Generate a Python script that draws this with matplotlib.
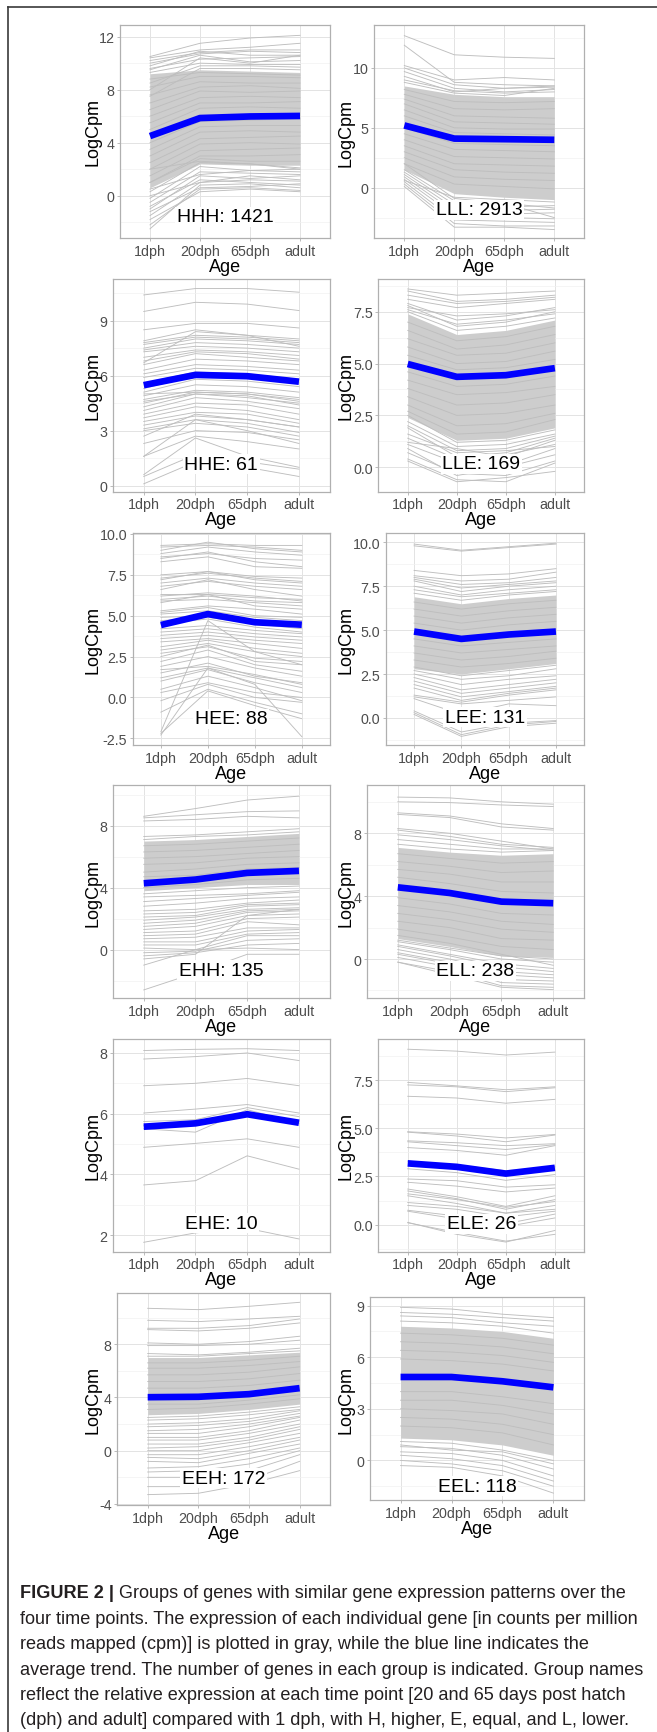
import matplotlib
matplotlib.use('Agg')
import matplotlib.pyplot as plt
from matplotlib.lines import Line2D
import numpy as np

# ---- data (LogCpm at 1dph, 20dph, 65dph, adult) ----
ages = ['1dph', '20dph', '65dph', 'adult']

hhh_mean = [4.5, 5.86, 5.98, 6.02]
hhh_band_lo = [0.6, 2.4, 2.3, 2.3]
hhh_band_hi = [9.2, 9.5, 9.4, 9.3]
hhh_genes = [
    [10.5, 11.5, 11.9, 12.1], [10.4, 11.0, 11.2, 11.5], [10.2, 10.8, 11.0, 11.0],
    [10.0, 10.7, 10.9, 10.8], [9.8, 10.9, 10.6, 10.6], [9.6, 10.3, 10.4, 10.5],
    [9.5, 10.6, 10.1, 10.2], [9.3, 10.0, 9.9, 9.9], [8.5, 9.8, 9.8, 9.7],
    [8.0, 10.4, 10.0, 10.6], [7.5, 9.6, 9.6, 9.5],
    [8.8, 9.3, 9.2, 9.1], [8.2, 9.0, 9.0, 8.9], [7.6, 8.6, 8.5, 8.5],
    [7.0, 8.2, 8.3, 8.1], [6.5, 7.9, 7.8, 7.9], [6.0, 7.4, 7.5, 7.4],
    [5.5, 7.0, 7.0, 7.1], [5.0, 6.6, 6.7, 6.6], [4.0, 5.6, 5.7, 5.8],
    [3.5, 5.2, 5.3, 5.3], [3.0, 4.8, 4.9, 4.8], [2.5, 4.3, 4.4, 4.5],
    [2.0, 3.9, 4.0, 3.9], [1.5, 3.4, 3.5, 3.6], [1.0, 3.0, 3.0, 3.1],
    [-2.5, 0.8, 0.9, 0.6], [-2.2, 0.5, 0.6, 0.4], [-1.8, 0.3, 0.5, 0.3],
    [-1.5, 1.0, 1.2, 1.1], [-1.2, 0.6, 0.7, 0.9], [-1.0, 1.5, 1.3, 1.5],
    [-0.8, 1.2, 1.0, 0.8], [-0.5, 1.8, 1.7, 1.6], [-0.2, 2.2, 1.9, 2.0],
    [0.0, 1.0, 1.5, 1.2], [0.3, 2.5, 2.4, 2.1], [0.5, 1.6, 1.9, 1.8],
    [1.0, 2.8, 2.6, 2.6], [2.0, 2.6, 2.4, 2.0],
]

lll_mean = [5.2, 4.1, 4.05, 4.0]
lll_band_lo = [1.5, -0.5, -0.8, -1.0]
lll_band_hi = [8.5, 7.8, 7.6, 7.6]
lll_genes = [
    [12.7, 11.1, 10.9, 10.8], [11.9, 8.8, 8.6, 8.5], [10.2, 9.0, 9.2, 9.0],
    [10.0, 8.6, 8.3, 8.4], [9.7, 8.3, 8.0, 8.2], [9.3, 8.0, 8.3, 8.5],
    [9.0, 8.1, 7.9, 8.0], [8.8, 7.9, 7.7, 8.3],
    [8.2, 7.2, 7.1, 7.2], [7.8, 6.6, 6.5, 6.6], [7.4, 6.0, 5.9, 5.8],
    [7.0, 5.5, 5.4, 5.3], [6.5, 5.0, 4.9, 4.9], [6.0, 4.6, 4.5, 4.4],
    [5.0, 3.7, 3.6, 3.5], [4.5, 3.2, 3.1, 3.0], [4.0, 2.6, 2.5, 2.4],
    [3.5, 2.0, 1.9, 1.8], [3.0, 1.5, 1.3, 1.2], [2.5, 0.9, 0.7, 0.6],
    [2.0, 0.3, 0.1, -0.1],
    [0.1, -3.3, -3.3, -3.5], [0.3, -3.0, -3.2, -3.2], [0.5, -2.7, -2.8, -2.9],
    [0.7, -2.3, -2.5, -2.6], [0.9, -2.0, -2.2, -2.1], [1.1, -1.7, -1.9, -1.8],
    [1.3, -1.4, -1.6, -1.5], [1.5, -1.1, -1.3, -1.7], [0.6, -0.8, -1.0, -1.2],
    [2.0, -0.9, -1.3, -2.5],
]

hhe_mean = [5.48, 6.04, 5.97, 5.67]
hhe_genes = [
    [10.4, 10.75, 10.75, 10.55], [9.5, 10.0, 9.9, 9.55], [8.5, 8.85, 8.85, 8.6],
    [7.9, 8.5, 8.2, 8.0], [7.8, 8.2, 8.1, 7.9], [7.7, 8.1, 8.0, 7.8],
    [7.5, 8.0, 7.9, 7.7], [7.4, 7.8, 7.7, 7.5], [7.3, 7.6, 7.5, 7.3],
    [7.0, 7.4, 7.3, 7.1], [6.8, 7.3, 7.2, 6.9], [6.6, 7.2, 7.0, 6.8],
    [6.3, 6.9, 6.8, 6.6], [6.1, 6.6, 6.5, 6.3], [6.7, 8.4, 8.2, 7.6],
    [5.9, 6.4, 6.3, 6.1], [5.6, 6.2, 6.1, 5.8], [5.3, 6.0, 5.9, 5.6],
    [5.1, 5.8, 5.7, 5.4], [4.9, 5.5, 5.4, 5.1], [4.7, 5.2, 5.1, 4.8],
    [4.5, 5.1, 5.0, 4.6], [4.3, 5.0, 4.9, 4.4], [4.1, 4.8, 4.6, 4.2],
    [3.9, 4.5, 4.4, 3.9], [3.7, 4.3, 4.1, 3.6], [3.5, 4.0, 3.9, 3.4],
    [3.3, 3.8, 3.6, 3.2], [3.1, 3.6, 3.4, 2.9], [3.0, 3.4, 3.2, 2.7],
    [2.7, 3.9, 3.6, 3.2], [2.3, 3.0, 2.9, 2.5], [1.6, 3.6, 3.0, 2.3],
    [1.6, 2.7, 2.4, 2.0], [0.6, 2.6, 1.6, 1.0], [0.5, 1.7, 1.3, 0.9],
    [0.1, 1.3, 1.0, 0.5], [4.6, 5.0, 4.8, 4.5], [5.0, 5.1, 5.0, 4.7],
]

lle_mean = [4.98, 4.36, 4.44, 4.78]
lle_band_lo = [2.4, 1.3, 1.4, 1.9]
lle_band_hi = [7.4, 6.4, 6.6, 7.1]
lle_genes = [
    [8.6, 8.3, 8.4, 8.5], [8.5, 8.0, 8.1, 8.3], [8.1, 7.7, 7.9, 8.1],
    [7.9, 7.1, 7.3, 7.7], [7.8, 6.8, 7.0, 7.5], [7.6, 6.9, 7.1, 7.4],
    [7.7, 7.3, 7.4, 7.6], [8.3, 7.9, 8.0, 8.2], [7.5, 6.6, 6.8, 7.2],
    [7.0, 6.1, 6.3, 6.8], [6.6, 5.7, 5.9, 6.4], [6.2, 5.4, 5.5, 6.0],
    [5.8, 5.0, 5.1, 5.6], [5.4, 4.7, 4.8, 5.2], [4.6, 3.9, 4.0, 4.4],
    [4.2, 3.5, 3.6, 3.9], [3.8, 3.0, 3.1, 3.5], [3.4, 2.5, 2.6, 3.0],
    [3.0, 2.0, 2.1, 2.6], [2.7, 1.6, 1.7, 2.3],
    [2.2, 1.0, 1.1, 1.6], [2.0, 0.8, 0.9, 1.5], [1.4, 0.4, 0.6, 1.1],
    [1.2, 0.9, 0.5, 1.3], [2.5, 1.2, 1.3, 1.8],
    [1.1, 0.2, 0.1, 0.9], [0.7, -0.3, -0.4, 0.3], [0.4, -0.6, -0.7, 0.2],
    [0.3, -0.7, -0.5, -0.2], [1.6, 0.7, 0.8, 1.0], [0.9, -0.4, 0.0, 0.6],
    [1.9, 0.5, 0.7, 1.4],
]

hee_mean = [4.43, 5.1, 4.6, 4.45]
hee_genes = [
    [9.3, 9.4, 9.3, 9.3], [9.2, 9.3, 9.2, 9.0], [9.0, 9.5, 9.1, 8.9],
    [8.8, 9.2, 8.9, 8.7], [8.6, 8.8, 8.5, 8.4], [8.5, 8.9, 8.3, 8.0],
    [8.3, 8.6, 8.0, 7.9], [7.5, 7.7, 7.4, 7.3], [7.3, 7.6, 7.3, 7.1],
    [7.2, 7.7, 7.2, 7.0], [7.0, 7.3, 7.0, 6.8], [6.8, 7.1, 6.8, 6.6],
    [6.6, 7.2, 6.6, 6.2], [6.3, 6.3, 6.1, 6.0], [6.2, 6.4, 6.2, 5.9],
    [6.0, 6.2, 5.9, 5.8], [5.9, 6.0, 5.8, 5.6], [5.8, 6.3, 5.6, 5.4],
    [5.3, 5.6, 5.4, 5.1], [5.2, 5.5, 5.0, 4.9], [5.1, 5.3, 4.9, 4.7],
    [4.9, 5.0, 4.7, 4.5], [4.7, 4.9, 4.5, 4.2], [4.5, 4.8, 4.3, 4.0],
    [4.2, 4.4, 4.1, 3.9], [4.0, 4.2, 3.9, 3.7], [3.8, 4.0, 3.7, 3.5],
    [3.6, 3.8, 3.5, 3.3], [3.4, 3.6, 3.3, 3.0], [3.1, 3.5, 3.0, 2.7],
    [2.9, 3.3, 2.8, 2.5], [2.7, 3.1, 2.4, 2.2], [2.5, 3.2, 2.2, 2.0],
    [2.2, 2.9, 2.0, 1.6], [1.9, 2.5, 1.8, 1.3], [1.7, 1.9, 1.4, 0.8],
    [1.5, 2.1, 1.3, 0.9], [1.2, 1.8, 1.2, 0.6], [1.0, 1.7, 0.9, 0.3],
    [0.5, 1.3, 0.6, -0.2], [0.3, 0.9, 0.3, 0.0], [-0.2, 0.8, 0.0, -0.3],
    [-0.9, 0.5, -0.3, -1.0], [-2.2, 0.4, -0.5, -1.3], [-2.3, 1.8, 0.8, -2.4],
    [-2.1, 4.7, 2.8, 2.0],
]

lee_mean = [4.92, 4.5, 4.75, 4.92]
lee_band_lo = [2.8, 2.5, 2.8, 3.1]
lee_band_hi = [6.9, 6.5, 6.8, 7.0]
lee_genes = [
    [9.9, 9.55, 9.75, 9.95], [9.8, 9.5, 9.7, 9.9], [8.4, 8.1, 8.2, 8.5],
    [8.1, 7.8, 7.9, 8.3], [8.0, 7.6, 7.7, 8.0], [7.9, 7.4, 7.6, 7.8],
    [7.8, 7.2, 7.5, 7.7], [7.3, 6.9, 7.1, 7.3], [7.5, 7.0, 7.3, 7.5],
    [7.1, 6.7, 7.0, 7.2], [6.6, 6.2, 6.5, 6.7], [6.2, 5.8, 6.1, 6.3],
    [5.8, 5.4, 5.7, 5.9], [5.4, 5.0, 5.3, 5.5], [4.5, 4.1, 4.3, 4.5],
    [4.1, 3.7, 3.9, 4.1], [3.7, 3.3, 3.5, 3.8], [3.3, 2.9, 3.1, 3.4],
    [2.7, 2.2, 2.4, 2.8], [2.9, 2.4, 2.7, 3.0],
    [2.5, 1.9, 2.2, 2.4], [2.3, 1.6, 1.9, 2.2], [2.1, 1.4, 1.7, 2.0],
    [1.9, 1.2, 1.5, 1.8], [1.7, 1.0, 1.4, 1.7], [1.3, 0.9, 1.3, 1.6],
    [1.2, 0.8, 1.0, 1.2], [1.1, 0.2, 0.8, 0.7], [0.4, -0.8, -0.3, -0.15],
    [0.3, -0.95, -0.4, -0.2], [0.2, -1.05, -0.5, -0.3],
]

ehh_mean = [4.28, 4.52, 4.95, 5.08]
ehh_band_lo = [3.8, 4.0, 4.2, 4.2]
ehh_band_hi = [7.0, 7.1, 7.3, 7.5]
ehh_genes = [
    [8.6, 9.1, 9.65, 9.9], [8.5, 8.7, 8.9, 8.95], [8.3, 8.4, 8.6, 8.5],
    [7.3, 7.4, 7.6, 7.8], [7.1, 7.3, 7.4, 7.6],
    [6.7, 6.8, 7.0, 7.2], [6.3, 6.4, 6.6, 6.8], [5.9, 6.0, 6.2, 6.4],
    [5.5, 5.6, 5.9, 6.0], [5.0, 5.2, 5.5, 5.6], [4.7, 4.8, 5.2, 5.3],
    [4.0, 4.2, 4.5, 4.6], [3.6, 3.8, 4.0, 4.1],
    [3.4, 3.5, 3.6, 3.8], [3.1, 3.3, 3.5, 3.7], [2.8, 3.0, 3.3, 3.4],
    [2.5, 2.6, 3.0, 3.2], [2.3, 2.4, 2.9, 3.0], [2.1, 2.2, 2.8, 2.9],
    [1.9, 2.1, 2.6, 2.7], [1.7, 1.9, 2.5, 2.6], [1.5, 1.7, 2.4, 2.5],
    [1.3, 1.5, 2.2, 2.3], [1.1, 1.2, 2.0, 2.1], [0.9, 1.0, 1.8, 1.6],
    [0.7, 0.8, 1.4, 1.4], [0.5, 0.5, 1.2, 1.3], [0.3, 0.3, 1.0, 1.1],
    [0.1, 0.0, 0.9, 0.9], [-0.2, -0.1, 0.6, 0.7], [-0.4, -0.2, 0.3, 0.4],
    [-0.6, -0.3, 2.2, 2.6], [-1.0, 0.0, 0.1, 0.0], [-2.6, -1.5, -0.3, -0.3],
]

ell_mean = [4.56, 4.2, 3.65, 3.55]
ell_band_lo = [1.3, 0.8, 0.2, 0.1]
ell_band_hi = [7.1, 6.8, 6.6, 6.7]
ell_genes = [
    [10.3, 10.25, 10.0, 9.85], [10.0, 9.95, 9.8, 9.7], [9.3, 9.1, 8.6, 8.3],
    [9.2, 9.0, 8.4, 8.2], [8.3, 8.0, 7.5, 7.0], [8.2, 7.8, 7.3, 7.1],
    [7.6, 7.3, 7.0, 7.0], [7.9, 7.6, 7.2, 6.9], [7.3, 7.0, 6.8, 6.9],
    [6.7, 6.4, 6.1, 6.2], [6.2, 5.9, 5.5, 5.6], [5.7, 5.4, 4.9, 4.9],
    [5.2, 4.8, 4.3, 4.2], [3.9, 3.5, 2.9, 2.8], [3.4, 3.0, 2.4, 2.2],
    [2.9, 2.5, 1.9, 1.7], [2.4, 2.0, 1.3, 1.2], [1.9, 1.4, 0.8, 0.6],
    [1.2, 0.7, 0.2, 0.0], [1.5, 1.0, 0.3, -0.4], [1.1, 0.6, 0.0, -0.2],
    [0.8, 0.2, -0.5, -0.8], [0.6, 0.0, -0.8, -1.0], [0.4, -0.2, -1.0, -1.2],
    [0.3, -0.3, -1.3, -1.4], [0.1, -0.5, -1.5, -1.6], [-0.2, -0.8, -1.7, -1.8],
    [-0.2, -1.0, -1.8, -1.95], [0.9, 0.3, -0.3, -0.6],
]

ehe_mean = [5.57, 5.68, 5.98, 5.7]
ehe_genes = [
    [8.08, 8.12, 8.14, 8.08], [7.8, 7.88, 8.0, 7.75], [6.92, 7.0, 7.16, 6.92],
    [6.02, 6.15, 6.3, 6.02], [5.74, 5.8, 6.2, 5.9], [5.5, 5.39, 6.13, 5.68],
    [4.89, 5.02, 5.17, 4.89], [3.65, 3.79, 4.61, 4.17], [1.76, 2.07, 2.22, 1.87],
    [5.6, 5.7, 5.95, 5.75],
]

ele_mean = [3.18, 3.0, 2.65, 2.95]
ele_genes = [
    [9.1, 9.0, 8.8, 8.95], [7.38, 7.2, 7.0, 7.15], [7.25, 7.15, 6.9, 7.1],
    [6.66, 6.57, 6.3, 6.5], [4.82, 4.7, 4.5, 4.68], [4.8, 4.6, 4.3, 4.65],
    [4.35, 4.25, 4.1, 4.2], [4.3, 4.1, 3.9, 4.15], [4.0, 3.85, 3.6, 4.1],
    [3.3, 3.1, 2.8, 3.0], [2.9, 2.7, 2.3, 2.6], [2.37, 2.28, 1.95, 2.07],
    [2.2, 2.0, 1.7, 1.9], [1.85, 1.45, 0.95, 1.5], [1.75, 1.35, 0.8, 1.3],
    [1.6, 1.3, 0.9, 1.2], [1.5, 1.1, 0.6, 1.0], [1.15, 0.95, 0.6, 0.8],
    [1.0, 0.8, 0.4, 0.7], [0.75, 0.45, 0.05, 0.55], [0.7, 0.3, -0.1, 0.35],
    [0.12, -0.5, -0.9, -0.3], [0.1, -0.4, -0.85, -0.5],
]

eeh_mean = [4.02, 4.05, 4.25, 4.7]
eeh_band_lo = [2.7, 2.8, 3.1, 3.5]
eeh_band_hi = [7.0, 7.0, 7.2, 7.4]
eeh_genes = [
    [10.7, 10.6, 10.85, 11.15], [9.8, 9.7, 9.9, 10.1], [9.2, 9.2, 9.4, 9.9],
    [9.1, 9.0, 9.2, 9.6], [8.1, 8.0, 8.2, 8.6], [7.9, 7.9, 8.0, 8.3],
    [7.3, 7.2, 7.4, 7.7], [7.1, 7.1, 7.3, 7.5],
    [6.6, 6.6, 6.8, 7.1], [6.2, 6.2, 6.4, 6.7], [5.7, 5.7, 5.9, 6.3],
    [5.2, 5.2, 5.4, 5.8], [4.7, 4.7, 4.9, 5.3], [3.5, 3.5, 3.8, 4.2],
    [3.1, 3.2, 3.5, 3.9], [2.5, 2.6, 2.9, 3.3],
    [2.3, 2.4, 2.7, 3.1], [2.0, 2.1, 2.4, 3.0], [1.8, 1.9, 2.2, 2.8],
    [1.5, 1.6, 2.0, 2.6], [1.3, 1.3, 1.8, 2.5], [1.0, 1.0, 1.5, 2.3],
    [0.8, 0.8, 1.3, 2.0], [0.5, 0.5, 1.0, 1.8], [0.2, 0.3, 0.8, 1.6],
    [0.0, 0.0, 0.6, 1.3], [-0.3, -0.3, 0.3, 1.0], [-0.5, -0.6, 0.0, 0.8],
    [-0.8, -0.9, -0.2, 0.5], [-1.3, -1.2, -0.6, 0.2], [-1.6, -1.5, -1.0, 0.0],
    [-2.0, -2.0, -1.5, -0.3], [-2.7, -2.7, -2.2, -0.8], [-3.3, -3.2, -2.5, -1.5],
]

eel_mean = [4.85, 4.85, 4.6, 4.25]
eel_band_lo = [1.3, 1.2, 0.9, 0.3]
eel_band_hi = [7.8, 7.7, 7.5, 7.1]
eel_genes = [
    [8.9, 8.8, 8.5, 8.3], [8.6, 8.5, 8.3, 8.1], [8.4, 8.3, 8.0, 7.8],
    [8.1, 8.0, 7.8, 7.4], [7.4, 7.3, 7.1, 6.7], [6.9, 6.8, 6.6, 6.2],
    [6.4, 6.3, 6.1, 5.7], [5.9, 5.8, 5.6, 5.2], [4.0, 4.0, 3.7, 3.3],
    [3.5, 3.5, 3.2, 2.7], [3.0, 2.9, 2.7, 2.1], [2.5, 2.4, 2.1, 1.5],
    [2.0, 1.9, 1.6, 0.9], [1.1, 1.0, 0.6, 0.0],
    [0.8, 0.7, 0.3, -0.5], [0.5, 0.4, 0.0, -0.9], [0.3, 0.1, -0.3, -1.2],
    [0.0, -0.2, -0.6, -1.5], [-0.3, -0.4, -0.9, -1.9], [0.9, 0.6, 0.5, -0.2],
]

groups = ['HHH', 'LLL', 'HHE', 'LLE', 'HEE', 'LEE', 'EHH', 'ELL', 'EHE', 'ELE', 'EEH', 'EEL']
counts = [1421, 2913, 61, 169, 88, 131, 135, 238, 10, 26, 172, 118]
means = [hhh_mean, lll_mean, hhe_mean, lle_mean, hee_mean, lee_mean,
         ehh_mean, ell_mean, ehe_mean, ele_mean, eeh_mean, eel_mean]
genes = [hhh_genes, lll_genes, hhe_genes, lle_genes, hee_genes, lee_genes,
         ehh_genes, ell_genes, ehe_genes, ele_genes, eeh_genes, eel_genes]
bands = [(hhh_band_lo, hhh_band_hi), (lll_band_lo, lll_band_hi), None,
         (lle_band_lo, lle_band_hi), None, (lee_band_lo, lee_band_hi),
         (ehh_band_lo, ehh_band_hi), (ell_band_lo, ell_band_hi), None, None,
         (eeh_band_lo, eeh_band_hi), (eel_band_lo, eel_band_hi)]

# y tick values shown on each panel
yticks = [[0, 4, 8, 12], [0, 5, 10], [0, 3, 6, 9], [0, 2.5, 5, 7.5],
          [-2.5, 0, 2.5, 5, 7.5, 10], [0, 2.5, 5, 7.5, 10], [0, 4, 8], [0, 4, 8],
          [2, 4, 6, 8], [0, 2.5, 5, 7.5], [-4, 0, 4, 8], [0, 3, 6, 9]]

# ---- layout (pixels in a 657 x 1733 canvas) ----
W, H = 657, 1733
# left, top, right, bottom of each panel box
boxes = [(120, 26, 330, 239), (374.3, 26, 584.3, 239.3),
         (112.7, 280, 330, 492.7), (378.3, 280, 584.3, 492.7),
         (132.7, 534, 330, 746), (385.7, 534, 584.3, 746),
         (112.7, 786, 330, 999.3), (366.7, 786, 584.3, 999.3),
         (112.7, 1040, 330, 1252.7), (378.3, 1040, 584.3, 1252.7),
         (117.3, 1294, 330, 1506), (370, 1298, 584, 1501)]
ylims = [(-3.19, 12.88), (-4.23, 13.59), (-0.33, 11.27), (-1.18, 9.08),
         (-2.91, 10.06), (-1.54, 10.53), (-3.14, 10.62), (-2.5, 11.07),
         (1.45, 8.46), (-1.4, 9.63), (-4.08, 11.85), (-2.3, 9.5)]
label_y = [-1.6, -1.84, 1.18, 0.16, -1.3, 0.04, -1.35, -0.74, 2.39, 0.04, -2.06, -1.5]
ylab_x = [92.7, 346]

plt.rcParams['font.family'] = 'Liberation Sans'

fig = plt.figure(figsize=(W / 100, H / 100), dpi=100)
fig.patch.set_facecolor('white')

x = np.arange(1, 5)
for i, g in enumerate(groups):
    l, t, r, b = boxes[i]
    ax = fig.add_axes([l / W, 1 - b / H, (r - l) / W, (b - t) / H])
    ax.set_xlim(0.4, 4.6)
    ax.set_ylim(*ylims[i])
    lo, hi = ylims[i]
    yt = yticks[i]
    step = yt[1] - yt[0]
    minor = np.arange(yt[0] - step / 2, hi, step)
    minor = [m for m in minor if lo < m < hi]
    ax.set_yticks(yt)
    ax.set_yticks(minor, minor=True)
    if step == 2.5:
        ax.set_yticklabels(['%.1f' % v for v in yt])
    else:
        ax.set_yticklabels(['%g' % v for v in yt])
    ax.set_xticks(x)
    ax.set_xticklabels(ages)
    ax.grid(True, which='major', color='#E3E3E3', lw=0.7, zorder=0)
    ax.grid(True, which='minor', axis='y', color='#F1F1F1', lw=0.5, zorder=0)
    ax.set_axisbelow(True)
    for s in ax.spines.values():
        s.set_color('#B0B0B0')
        s.set_linewidth(0.9)
    ax.tick_params(which='major', length=2.5, width=0.6, color='#B0B0B0',
                   labelcolor='#4D4D4D', labelsize=10.3, pad=1.5)
    ax.tick_params(which='minor', length=0)

    if bands[i] is not None:
        ax.fill_between(x, bands[i][0], bands[i][1], color='#CDCDCD', lw=0, zorder=1)
    for row in genes[i]:
        ax.plot(x, row, color='#BEBEBE', lw=0.65, zorder=2)
    ax.plot(x, means[i], color='#0000FF', lw=4.8, solid_capstyle='butt', zorder=3)

    ax.text(2.5, label_y[i], '%s: %d' % (g, counts[i]), ha='center', va='center',
            fontsize=14, color='black', zorder=4,
            bbox=dict(boxstyle='square,pad=0.08', fc='white', ec='none'))
    ax.set_xlabel('Age', fontsize=13, labelpad=0)
    fig.text(ylab_x[i % 2] / W, 1 - (t + b) / 2 / H, 'LogCpm', rotation=90,
             ha='center', va='center', fontsize=13)

# figure frame
fig.add_artist(Line2D([8 / W, 1], [1 - 8 / H, 1 - 8 / H], color='#3A3A3A', lw=1.2,
                      transform=fig.transFigure))
fig.add_artist(Line2D([8 / W, 8 / W], [0, 1 - 8 / H], color='#3A3A3A', lw=1.2,
                      transform=fig.transFigure))

# caption
caption_lines = [
    ' Groups of genes with similar gene expression patterns over the',
    'four time points. The expression of each individual gene [in counts per million',
    'reads mapped (cpm)] is plotted in gray, while the blue line indicates the',
    'average trend. The number of genes in each group is indicated. Group names',
    'reflect the relative expression at each time point [20 and 65 days post hatch',
    '(dph) and adult] compared with 1 dph, with H, higher, E, equal, and L, lower.',
]
cap_font = ['Liberation Sans Narrow', 'Liberation Sans']
renderer = fig.canvas.get_renderer()
probe = fig.text(0, 0, caption_lines[3], fontsize=12, family=cap_font)
cap_size = 12 * 628 / probe.get_window_extent(renderer).width
probe.remove()

cap_x = 20
cap_y0 = 1594
cap_dy = 25.4
bold = fig.text(cap_x / W, 1 - cap_y0 / H, 'FIGURE 2 |', fontsize=cap_size,
                family=cap_font, weight='bold', color='#231F20', va='center')
bw = bold.get_window_extent(renderer).width
for k, line in enumerate(caption_lines):
    xx = cap_x + (bw if k == 0 else 0)
    fig.text(xx / W, 1 - (cap_y0 + k * cap_dy) / H, line, fontsize=cap_size,
             family=cap_font, color='#231F20', va='center')

fig.savefig('out.png', dpi=100)
